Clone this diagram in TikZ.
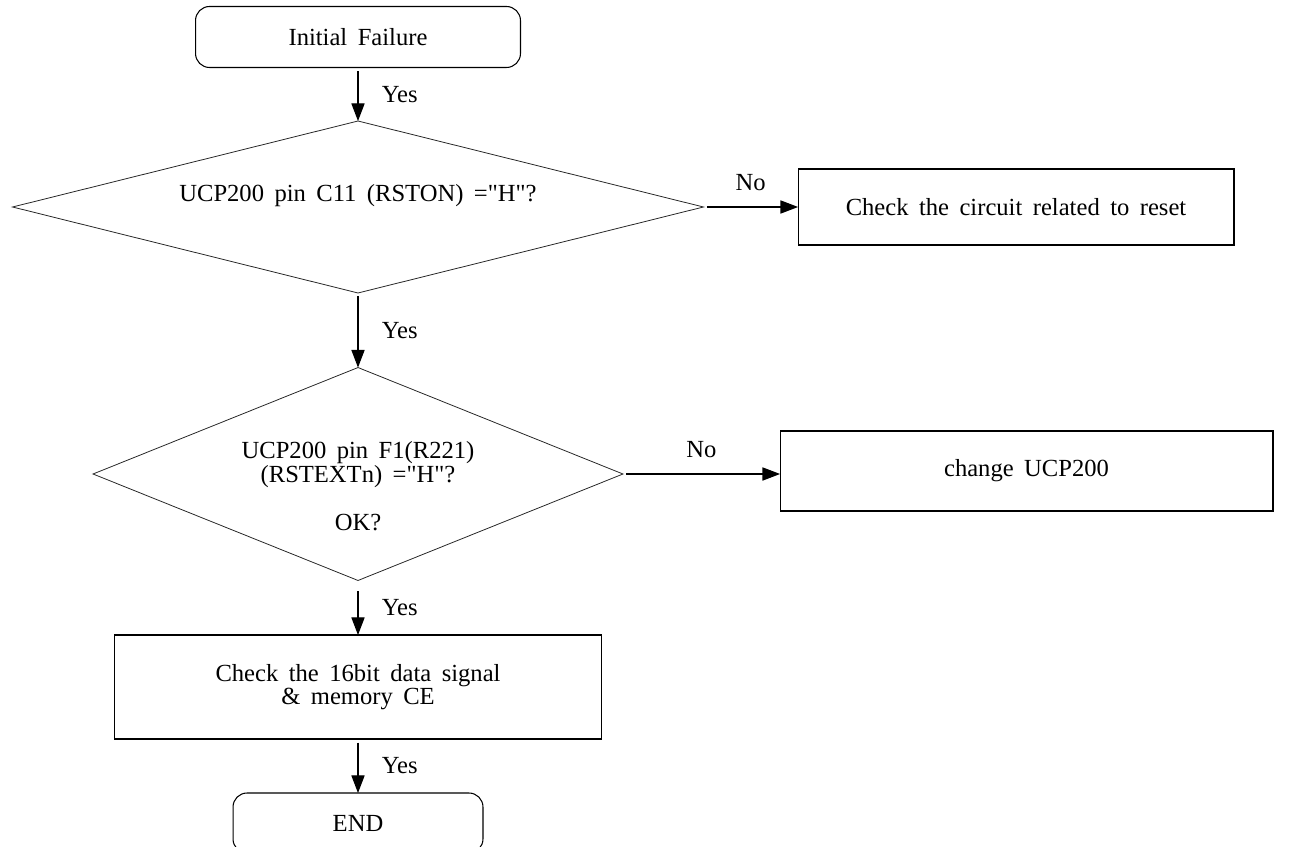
\documentclass[tikz,border=0pt]{standalone}
\usepackage{fontspec}
\setmainfont{Liberation Serif}[WordSpace=1.7, Ligatures=TeXOff]
\usepackage{tikz}
\usetikzlibrary{shapes.geometric, arrows.meta, positioning, calc}

\begin{document}
\begin{tikzpicture}[
  x=0.02cm, y=-0.02cm,
  every node/.style={font=\fontsize{14}{11.5}\selectfont},
  term/.style={draw, rectangle, rounded corners=0.28cm, line width=0.6pt, outer sep=0pt},
  proc/.style={draw, rectangle, line width=0.6pt, outer sep=0pt},
  decision/.style={draw=black!85, diamond, inner sep=0pt, outer sep=0pt, line width=0.45pt},
  txt/.style={align=center, inner sep=0pt},
  flow/.style={-{Triangle[length=10pt, width=7.5pt]}, line width=0.6pt, shorten <=2pt},
  yeslbl/.style={midway, right=0.35cm},
  nolbl/.style={midway, above=0.2cm}
]
  % Page frame (pixel grid of the reference)
  \useasboundingbox (0,0) rectangle (1293,847);

  % Start (TOP)
  \node[term, minimum width=6.5cm, minimum height=1.22cm] (start) at (358,37) {Initial Failure};

  % First check: reset line
  \node[decision, minimum width=13.82cm, minimum height=3.44cm] (chkrst) at (358,207) {};
  \node[txt] (chkrsttext) at (358,196) {UCP200 pin C11 (RSTON) ="H"?};
  \node[proc, minimum width=8.72cm, minimum height=1.52cm] (resetckt) at (1016,207) {Check the circuit related to reset};

  % Second check: external reset
  \node[decision, minimum width=10.6cm, minimum height=4.26cm] (chkext) at (358,474) {};
  \node[txt] (chkexttext) at (358,486) {UCP200 pin F1(R221)\\(RSTEXTn) ="H"?\\[14pt]OK?};
  \node[proc, minimum width=9.86cm, minimum height=1.6cm] (newucp) at (1026.5,471) {change UCP200};

  % Data signal check (LOWER)
  \node[proc, txt, inner sep=0.333em, minimum width=9.76cm, minimum height=2.08cm] (chkdata) at (358,687) {Check the 16bit data signal\\\& memory CE};

  % End (BOTTOM - cut by the page edge)
  \node[term, minimum width=5cm, minimum height=1.2cm] (finish) at (358,823) {END};

  % Connectors
  \draw[flow] (start.south) -- node[yeslbl] {Yes} (chkrst.north);
  \draw[flow] (chkrst.east) -- node[nolbl] {No} (resetckt.west);
  \draw[flow] (chkrst.south) -- node[yeslbl] {Yes} (chkext.north);
  \draw[flow] (chkext.east) -- node[nolbl] {No} (chkext.east -| newucp.west);
  \draw[flow, shorten <=6pt] (chkext.south) -- node[yeslbl] {Yes} (chkdata.north);
  \draw[flow] (chkdata.south) -- node[yeslbl] {Yes} (finish.north);
\end{tikzpicture}
\end{document}
